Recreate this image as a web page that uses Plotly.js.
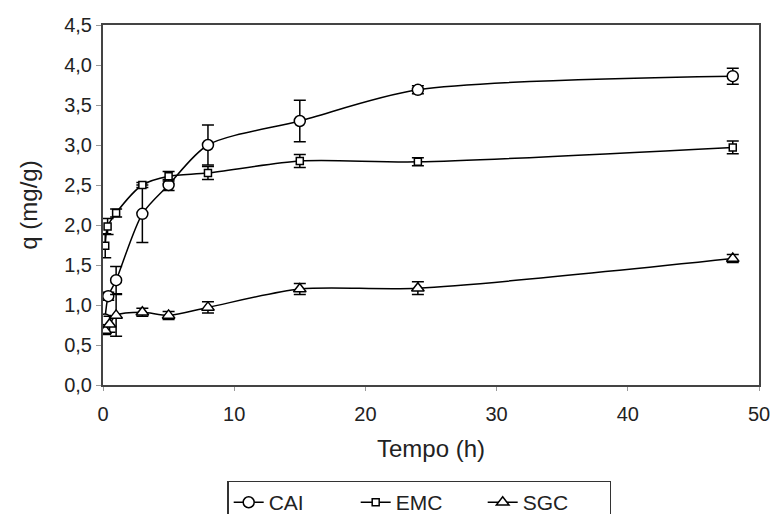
<!DOCTYPE html>
<html>
<head>
<meta charset="utf-8">
<script src="https://cdn.plot.ly/plotly-3.0.1.min.js"></script>
<style>html,body{margin:0;padding:0;background:#fff;}#chart{width:771px;height:514px;}</style>
</head>
<body>
<div id="chart"></div>
<script>
const caiTime = [0.15, 0.4, 1, 3, 5, 8, 15, 24, 48];
const caiQ    = [0.82, 1.11, 1.31, 2.14, 2.50, 3.00, 3.30, 3.69, 3.86];
const caiErr  = [0.05, 0.05, 0.17, 0.36, 0.07, 0.25, 0.26, 0.05, 0.10];

const emcTime = [0.17, 0.35, 1, 3, 5, 8, 15, 24, 48];
const emcQ    = [1.74, 1.98, 2.15, 2.50, 2.61, 2.65, 2.80, 2.79, 2.97];
const emcErr  = [0.15, 0.10, 0.05, 0.03, 0.06, 0.08, 0.08, 0.05, 0.08];

const sgcTime = [0.17, 0.5, 1, 3, 5, 8, 15, 24, 48];
const sgcQ    = [0.68, 0.76, 0.87, 0.91, 0.87, 0.97, 1.20, 1.21, 1.58];
const sgcErr  = [0.05, 0.10, 0.26, 0.05, 0.05, 0.07, 0.07, 0.08, 0.05];

const seriesNames = ['CAI', 'EMC', 'SGC'];
const xTicks = [0, 10, 20, 30, 40, 50];
const yTicks = [0, 0.5, 1, 1.5, 2, 2.5, 3, 3.5, 4, 4.5];

function mk(x, y, e, name, symbol, size) {
  return {
    x: x, y: y, name: name, type: 'scatter', mode: 'lines+markers',
    line: {color: '#000', width: 1.5, shape: 'spline', smoothing: 0.8},
    marker: {symbol: symbol, size: size, color: '#fff', line: {color: '#000', width: 1.5}},
    error_y: {type: 'data', array: e, visible: true, color: '#000', thickness: 1.5, width: 6}
  };
}

const data = [
  mk(caiTime, caiQ, caiErr, seriesNames[0], 'circle', 11),
  mk(emcTime, emcQ, emcErr, seriesNames[1], 'square', 7),
  mk(sgcTime, sgcQ, sgcErr, seriesNames[2], 'triangle-up', 11)
];

const layout = {
  width: 771, height: 514,
  margin: {l: 103, r: 12, t: 25, b: 129, autoexpand: false},
  paper_bgcolor: '#fff', plot_bgcolor: '#fff',
  separators: ',.',
  font: {family: 'Liberation Sans, Arial, sans-serif', color: '#222', size: 20},
  showlegend: true,
  legend: {
    orientation: 'h', x: 0.482, xanchor: 'center', yref: 'container', y: 0.065, yanchor: 'top',
    bordercolor: '#333', borderwidth: 1.5, font: {size: 21, color: '#222'},
    entrywidth: 82, tracegroupgap: 0
  },
  xaxis: {
    range: [0, 50], tickvals: xTicks,
    showgrid: false, zeroline: false, showline: true, linecolor: '#444', linewidth: 2, mirror: true,
    ticks: 'outside', ticklen: 4, tickcolor: '#999', tickfont: {size: 20}, ticklabelstandoff: 6,
    title: {text: 'Tempo (h)', font: {size: 24}, standoff: 16}
  },
  yaxis: {
    range: [0, 4.5], tickvals: yTicks, tickformat: '.1f',
    showgrid: false, zeroline: false, showline: true, linecolor: '#444', linewidth: 2, mirror: true,
    ticks: 'outside', ticklen: 5, tickcolor: '#999', tickfont: {size: 20},
    title: {text: 'q (mg/g)', font: {size: 24}, standoff: 20}
  }
};

Plotly.newPlot('chart', data, layout, {displayModeBar: false, staticPlot: true});
</script>
</body>
</html>
